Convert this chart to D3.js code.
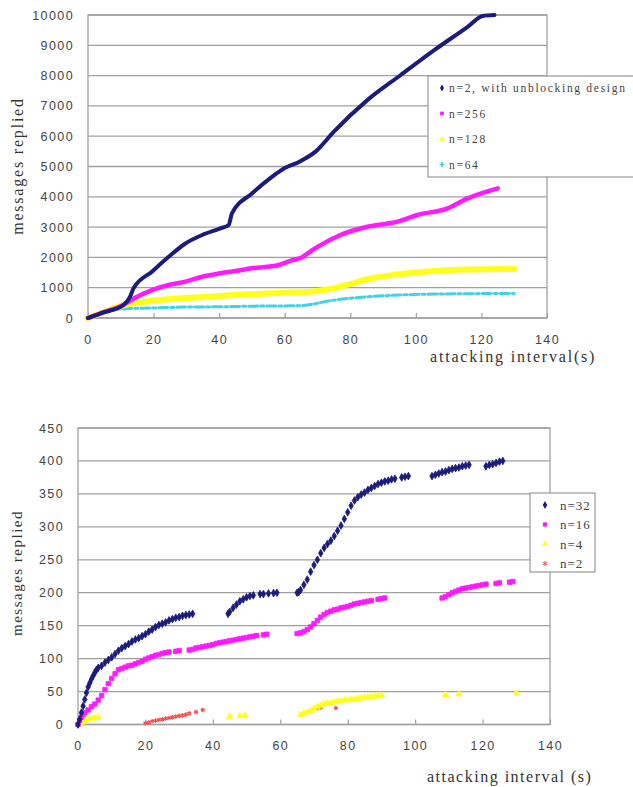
<!DOCTYPE html>
<html>

<head>
    <meta charset="utf-8">
    <style>
        body {
            margin: 0;
            background: #fff;
        }

        svg {
            display: block;
            font-family: 'Liberation Serif', 'Times New Roman', serif;
            fill: #333;
        }

        .grid {
            stroke: #a0a0a0;
            stroke-width: 1.3;
        }

        .frame {
            fill: none;
            stroke: #a0a0a0;
            stroke-width: 1.3;
        }

        .tick line {
            stroke: #a0a0a0;
            stroke-width: 1.2;
        }

        .tick text {
            fill: #444;
        }
    </style>
</head>

<body>
    <svg width="633" height="787"></svg>

    <script src="https://d3js.org/d3.v7.min.js"></script>

    <script>
        // ---------- data ----------
        // shared x axis: attacking interval (s)
        let xTicks = [0, 20, 40, 60, 80, 100, 120, 140]

        // top chart: messages replied, lines
        let topYTicks = [0, 1000, 2000, 3000, 4000, 5000, 6000, 7000, 8000, 9000, 10000]
        let topNames = ["n=2, with unblocking design", "n=256", "n=128", "n=64"]

        let n2Unblocking = [[0, 0], [5, 190], [10.8, 430], [12.8, 700], [13.9, 980], [19.5, 1530], [24.6, 2020],
        [29.7, 2460], [34.8, 2740], [40.4, 2960], [42.9, 3070], [43.9, 3450], [50, 4110], [56.1, 4660], [60, 4950],
        [64.5, 5160], [69.4, 5490], [75, 6150], [85.2, 7190], [95.4, 8020], [105.6, 8840], [115.8, 9610],
        [120.4, 9970], [124, 10000]]

        let n256 = [[0, 0], [5, 200], [10.8, 430], [14.1, 650], [19.5, 920], [24.6, 1090], [29.7, 1200],
        [34.8, 1360], [39.9, 1470], [45, 1550], [50, 1640], [58.2, 1750], [62.3, 1910], [65, 1990], [68.4, 2240],
        [70, 2350], [77, 2740], [85.2, 3010], [94.4, 3180], [100.5, 3400], [109.7, 3620], [115.8, 3950], [125, 4280]]

        let n128 = [[0, 0], [5, 200], [10.8, 420], [15, 500], [19.5, 570], [29.7, 660], [39.9, 725], [50, 790],
        [60.2, 835], [64.8, 850], [69.4, 880], [75, 980], [80, 1120], [85.2, 1280], [95.4, 1450], [105.6, 1550],
        [115.8, 1600], [130, 1620]]

        let n64 = [[0, 0], [5, 160], [9.3, 290], [19.5, 330], [29.7, 360], [39.9, 370], [50, 390], [60.2, 400],
        [64.8, 405], [68.4, 460], [75, 590], [85.2, 700], [95.4, 760], [105.6, 790], [130, 810]]

        // bottom chart: messages replied, scatter points
        let bottomYTicks = [0, 50, 100, 150, 200, 250, 300, 350, 400, 450]
        let bottomNames = ["n=32", "n=16", "n=4", "n=2"]

        let n32 = [[0, 0], [0.5, 8], [1, 18], [1.5, 28], [2, 38], [2.5, 48], [3, 57], [3.5, 63], [4, 69], [4.5, 74],
        [5, 79], [5.5, 83], [6, 86], [7, 89], [8, 94], [9, 98], [10, 102], [11, 107], [12, 112], [13, 116], [14, 119],
        [15, 122], [16, 126], [17, 129], [18, 131], [19, 134], [20, 137], [21, 141], [22, 144], [23, 148], [24, 151],
        [25, 153], [26, 155], [27, 158], [28, 160], [29, 162], [30, 163], [31, 165], [32, 166], [33, 167], [34, 168],
        [44.5, 168], [45, 171], [46, 177], [47, 182], [48, 187], [49, 190], [50, 193], [51, 195], [52, 196],
        [54, 198], [55, 198], [56.5, 199], [58, 199.5], [59, 200],
        [65, 200], [65.5, 201], [66, 204], [67, 212], [68, 220], [69, 232], [70, 242], [71, 250], [72, 260],
        [73, 268], [74, 274], [75, 279], [76, 286], [77, 294], [78, 302], [79, 312], [80, 322], [81, 332], [82, 340],
        [83, 345], [84, 349], [85, 352], [86, 356], [87, 359], [88, 362], [89, 365], [90, 367], [91, 369], [92, 370],
        [93, 372], [94, 373], [96, 375], [97, 376], [98, 377],
        [105, 377], [106, 379], [107, 381], [108, 383], [109, 384], [110, 386], [111, 388], [112, 389], [113, 390],
        [114, 392], [115, 393], [116, 394],
        [121, 392], [122, 394], [123, 395], [124, 397], [125, 399], [126, 400]]

        let n16 = [[0, 0], [0.5, 6], [1, 11], [1.5, 15], [2, 18], [3, 22], [4, 27], [5, 31], [6, 37], [7, 44],
        [8, 53], [9, 62], [10, 70], [11, 77], [12, 83], [13, 85], [14, 87], [15, 89], [16, 90], [17, 92], [18, 94],
        [19, 96], [20, 99], [21, 101], [22, 103], [23, 105], [24, 106], [25, 108], [26, 109], [27, 110],
        [29, 111], [30, 112],
        [33, 113], [34, 114], [35, 116], [36, 117], [37, 118], [38, 119], [39, 120], [40, 121], [41, 123], [42, 124],
        [43, 125], [44, 126], [45, 127], [46, 128], [47, 129], [48, 130], [49, 131], [50, 132], [51, 133], [52, 134],
        [53, 135],
        [55, 136], [56, 137],
        [65, 138], [66, 139], [67, 141], [68, 144], [69, 148], [70, 153], [71, 158], [72, 163], [73, 167], [74, 170],
        [75, 172], [76, 174], [77, 175], [78, 177], [79, 178], [80, 179], [81, 181], [82, 183], [83, 184], [84, 185],
        [85, 186], [86, 187], [87, 188],
        [89, 190], [90, 191], [91, 192],
        [108, 192], [109, 194], [110, 197], [111, 200], [112, 202], [113, 204], [114, 206], [115, 207], [116, 208],
        [117, 209], [118, 210], [119, 211], [120, 212], [121, 213],
        [124, 214], [125, 215],
        [128, 216], [129, 217]]

        let n4 = [[0, 0], [0.5, 2], [1, 3], [1.5, 5], [2, 6], [3, 8], [4, 9], [5, 10], [6, 11],
        [45, 12], [48, 13], [49.5, 14],
        [66, 15], [67, 17], [68, 19], [69, 21], [70, 24], [71, 27], [72, 29], [73, 31], [74, 32], [75, 33], [76, 34],
        [77, 35], [78, 36], [79, 37], [80, 37], [81, 38], [82, 38], [83, 39], [84, 40], [85, 41], [86, 41], [87, 42],
        [88, 43], [89, 43], [90, 44],
        [109, 45], [113, 46], [130, 48]]

        let n2 = [[0, 1], [20, 2], [21, 3], [22, 5], [23, 6], [24, 7], [25, 8], [26, 9], [27, 10], [28, 11],
        [29, 12], [30, 13], [31, 14], [32, 15], [33, 17], [35, 19], [37, 22], [71, 25], [72, 26], [76.5, 25]]

        // ---------- drawing ----------
        let svg = d3.select("svg")

        let navy = "#1b1b7d"
        let magenta = "#ff1aff"
        let yellow = "#ffff1e"
        let cyan = "#3fd2e8"
        let red = "#ff4a4a"

        function frame(x, y, yTicks, fmt) {
            let g = svg.append("g")
            let [x0, x1] = x.range()
            let [y0, y1] = y.range()

            g.selectAll(".grid")
                .data(yTicks)
                .join("line")
                .attr("class", "grid")
                .attr("x1", x0).attr("x2", x1)
                .attr("y1", d => y(d)).attr("y2", d => y(d))

            g.append("rect")
                .attr("class", "frame")
                .attr("x", x0).attr("y", y1)
                .attr("width", x1 - x0).attr("height", y0 - y1)

            let yAxis = g.append("g")
                .attr("transform", `translate(${x0},0)`)
                .call(d3.axisLeft(y).tickValues(yTicks).tickSize(0).tickPadding(14).tickFormat(fmt))
            yAxis.select(".domain").remove()
            yAxis.selectAll("text")
                .style("font-size", "12.5px")
                .style("letter-spacing", "1.4px")

            let xAxis = g.append("g")
                .attr("transform", `translate(0,${y0})`)
                .call(d3.axisBottom(x).tickValues(xTicks).tickSizeInner(-5).tickSizeOuter(0).tickPadding(17))
            xAxis.select(".domain").remove()
            xAxis.selectAll("text")
                .style("font-size", "12.5px")
                .style("letter-spacing", "1.4px")
            return g
        }

        function yTitle(cx, cy, size, spacing) {
            svg.append("text")
                .attr("transform", `translate(${cx},${cy}) rotate(-90)`)
                .attr("text-anchor", "middle")
                .attr("dy", "0.35em")
                .style("font-size", size + "px")
                .style("letter-spacing", spacing + "px")
                .style("fill", "#333")
                .text("messages replied")
        }

        function xTitle(x, y, label, spacing) {
            svg.append("text")
                .attr("x", x).attr("y", y)
                .style("font-size", "16px")
                .style("letter-spacing", spacing + "px")
                .style("fill", "#333")
                .text(label)
        }

        // ===== top chart =====
        let xT = d3.scaleLinear().domain([0, 140]).range([88, 547])
        let yT = d3.scaleLinear().domain([0, 10000]).range([318, 15])

        frame(xT, yT, topYTicks, d3.format("d"))

        let line = d3.line()
            .x(d => xT(d[0]))
            .y(d => yT(d[1]))
            .curve(d3.curveMonotoneX)

        let topSeries = [
            { data: n64, color: cyan, width: 3, dash: "9,3,3,3" },
            { data: n128, color: yellow, width: 6, dash: null },
            { data: n256, color: magenta, width: 4.5, dash: null },
            { data: n2Unblocking, color: navy, width: 4, dash: null }
        ]

        svg.append("g")
            .selectAll("path")
            .data(topSeries)
            .join("path")
            .attr("d", d => line(d.data))
            .style("fill", "none")
            .style("stroke", d => d.color)
            .style("stroke-width", d => d.width)
            .style("stroke-dasharray", d => d.dash)
            .style("stroke-linejoin", "round")
            .style("stroke-linecap", "round")

        yTitle(17, 166, 16, 1.8)
        xTitle(430, 362, "attacking interval(s)", 1.8)

        // top legend
        let legT = svg.append("g").attr("transform", "translate(428,76)")
        legT.append("rect")
            .attr("width", 215).attr("height", 101)
            .style("fill", "#fff")
            .style("stroke", "#999")
            .style("stroke-width", 1.2)

        let topLegendColors = [navy, magenta, yellow, cyan]
        let topLegendSymbols = [d3.symbolDiamond, d3.symbolSquare, d3.symbolTriangle, d3.symbolCross]

        let rowsT = legT.selectAll(".row")
            .data(topNames)
            .join("g")
            .attr("transform", (d, i) => `translate(0,${12 + i * 25.5})`)

        rowsT.append("path")
            .attr("transform", "translate(14,0)")
            .attr("d", (d, i) => d3.symbol().type(topLegendSymbols[i]).size(14)())
            .style("fill", (d, i) => topLegendColors[i])

        rowsT.append("text")
            .attr("x", 21)
            .attr("dy", "0.35em")
            .style("font-size", "11.5px")
            .style("letter-spacing", "1.7px")
            .style("fill", "#444")
            .text(d => d)

        // ===== bottom chart =====
        let xB = d3.scaleLinear().domain([0, 140]).range([78, 550])
        let yB = d3.scaleLinear().domain([0, 450]).range([724.5, 428])

        frame(xB, yB, bottomYTicks, d3.format("d"))

        let asterisk = d3.symbolAsterisk || d3.symbolCross

        let bottomSeries = [
            { data: n2, color: red, type: asterisk, size: 14, stroke: true },
            { data: n4, color: yellow, type: d3.symbolTriangle, size: 18, stroke: false },
            { data: n16, color: magenta, type: d3.symbolSquare, size: 20, stroke: false },
            { data: n32, color: navy, type: d3.symbolDiamond, size: 17, stroke: false }
        ]

        bottomSeries.forEach(s => {
            let sym = d3.symbol().type(s.type).size(s.size)
            svg.append("g")
                .selectAll("path")
                .data(s.data)
                .join("path")
                .attr("transform", d => `translate(${xB(d[0])},${yB(d[1])})`)
                .attr("d", sym)
                .style("fill", s.stroke ? "none" : s.color)
                .style("stroke", s.stroke ? s.color : s.color)
                .style("stroke-width", s.stroke ? 1.2 : 0.8)
        })

        yTitle(17, 573, 15, 1.5)
        xTitle(427, 782, "attacking interval (s)", 1.5)

        // bottom legend
        let legB = svg.append("g").attr("transform", "translate(530,493)")
        legB.append("rect")
            .attr("width", 65).attr("height", 79)
            .style("fill", "#fff")
            .style("stroke", "#999")
            .style("stroke-width", 1.2)

        let bottomLegend = [
            { color: navy, type: d3.symbolDiamond, stroke: false },
            { color: magenta, type: d3.symbolSquare, stroke: false },
            { color: yellow, type: d3.symbolTriangle, stroke: false },
            { color: red, type: asterisk, stroke: true }
        ]

        let rowsB = legB.selectAll(".row")
            .data(bottomNames)
            .join("g")
            .attr("transform", (d, i) => `translate(0,${12 + i * 19.5})`)

        rowsB.append("path")
            .attr("transform", "translate(15,0)")
            .attr("d", (d, i) => d3.symbol().type(bottomLegend[i].type).size(18)())
            .style("fill", (d, i) => bottomLegend[i].stroke ? "none" : bottomLegend[i].color)
            .style("stroke", (d, i) => bottomLegend[i].stroke ? bottomLegend[i].color : "none")

        rowsB.append("text")
            .attr("x", 30)
            .attr("dy", "0.35em")
            .style("font-size", "13px")
            .style("letter-spacing", "1px")
            .style("fill", "#444")
            .text(d => d)
    </script>
</body>

</html>
